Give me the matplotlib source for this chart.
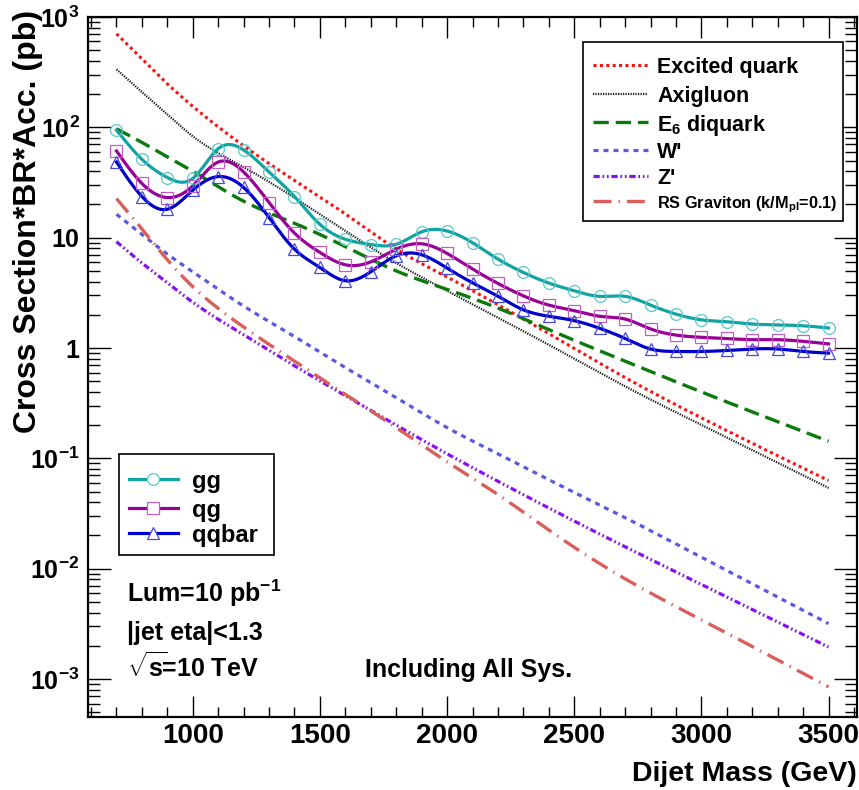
import numpy as np
import matplotlib
matplotlib.use('Agg')
import matplotlib.pyplot as plt
from matplotlib.lines import Line2D
from matplotlib.patches import Rectangle
from matplotlib.ticker import FixedLocator, MultipleLocator, LogLocator, NullFormatter

plt.rcParams['font.family'] = ['Liberation Sans', 'DejaVu Sans']
plt.rcParams['font.weight'] = 'bold'
plt.rcParams['mathtext.fontset'] = 'custom'
plt.rcParams['mathtext.rm'] = 'Liberation Sans:bold'
plt.rcParams['mathtext.it'] = 'Liberation Sans:bold'
plt.rcParams['mathtext.bf'] = 'Liberation Sans:bold'
plt.rcParams['mathtext.sf'] = 'Liberation Sans:bold'
plt.rcParams['lines.scale_dashes'] = False

# ---- data (pb) ----
mass = [700, 800, 900, 1000, 1100, 1200, 1300, 1400, 1500, 1600, 1700, 1800, 1900, 2000,
        2100, 2200, 2300, 2400, 2500, 2600, 2700, 2800, 2900, 3000, 3100, 3200, 3300, 3400, 3500]
gg = [94.6, 51.3, 35.1, 34.4, 64.1, 62.4, 39.4, 23.6, 13.2, 9.68, 8.67, 8.7, 11.3, 11.5,
      9.0, 6.4, 4.84, 3.88, 3.30, 2.94, 2.94, 2.45, 2.03, 1.80, 1.73, 1.65, 1.62, 1.59, 1.52]
qg = [61.1, 31.0, 23.1, 29.5, 48.5, 39.4, 20.8, 11.0, 7.35, 5.68, 6.04, 7.87, 8.8, 7.2,
      5.2, 3.85, 2.97, 2.45, 2.18, 1.94, 1.83, 1.49, 1.31, 1.25, 1.22, 1.19, 1.19, 1.15, 1.09]
qqbar = [48.5, 23.6, 18.1, 26.9, 35.8, 28.5, 15.2, 7.87, 5.37, 4.07, 4.91, 6.85, 7.0, 5.3,
         3.9, 2.95, 2.22, 1.94, 1.77, 1.51, 1.22, 0.98, 0.93, 0.93, 0.95, 0.98, 0.98, 0.93, 0.90]

theory_mass = [700, 800, 900, 1000, 1200, 1400, 1600, 1800, 2000, 2200, 2400, 2700, 3000, 3500]
excited_quark = [705, 417, 248, 155, 68, 33, 16.4, 7.9, 4.4, 2.47, 1.35, 0.54, 0.233, 0.063]
axigluon = [335, 209, 131, 83, 43.6, 23, 11.5, 5.9, 3.30, 1.88, 1.07, 0.45, 0.201, 0.054]
e6_diquark = [97, 73, 54, 40, 21.4, 13.5, 8.3, 5.0, 3.4, 2.3, 1.47, 0.76, 0.40, 0.143]
w_prime = [16.3, 10.7, 7.1, 4.9, 2.4, 1.27, 0.665, 0.355, 0.19, 0.11, 0.064, 0.029, 0.0127, 0.00318]
z_prime = [9.2, 5.9, 3.9, 2.6, 1.32, 0.69, 0.37, 0.20, 0.11, 0.062, 0.0355, 0.0158, 0.0072, 0.00195]
rs_graviton = [22.6, 12.0, 6.3, 3.6, 1.55, 0.76, 0.38, 0.19, 0.093, 0.047, 0.0224, 0.0081, 0.00344, 0.00085]

W, H = 859, 790


def fx(px):
    return px / W


def fy(py):
    return 1 - py / H


def smooth(x, y, n=600):
    """Natural cubic spline through the points, in log10(y)."""
    x = np.asarray(x, float)
    ly = np.log10(np.asarray(y, float))
    h = np.diff(x)
    nn = len(x)
    A = np.zeros((nn, nn))
    r = np.zeros(nn)
    A[0, 0] = A[-1, -1] = 1
    for i in range(1, nn - 1):
        A[i, i - 1] = h[i - 1]
        A[i, i] = 2 * (h[i - 1] + h[i])
        A[i, i + 1] = h[i]
        r[i] = 3 * ((ly[i + 1] - ly[i]) / h[i] - (ly[i] - ly[i - 1]) / h[i - 1])
    c = np.linalg.solve(A, r)
    b = (ly[1:] - ly[:-1]) / h - h * (2 * c[:-1] + c[1:]) / 3
    d = (c[1:] - c[:-1]) / (3 * h)
    xs = np.linspace(x[0], x[-1], n)
    idx = np.clip(np.searchsorted(x, xs) - 1, 0, nn - 2)
    dx = xs - x[idx]
    ys = ly[idx] + b[idx] * dx + c[idx] * dx ** 2 + d[idx] * dx ** 3
    return xs, 10 ** ys


fig = plt.figure(figsize=(W / 100, H / 100), dpi=100)
ax = fig.add_axes([fx(88), fy(717), (857 - 88) / W, (717 - 17) / H])

theory = [
    ('Excited quark', excited_quark, '#ff1010', (0, (2.2, 2.4)), 2.2, 15.5),
    ('Axigluon', axigluon, '#1a1a1a', (0, (0.9, 0.9)), 1.6, 15.5),
    ('E$_6$ diquark', e6_diquark, '#0a7a0a', (0, (11, 5)), 2.4, 15.5),
    ("W'", w_prime, '#5a5ae0', (0, (3.6, 3.6)), 2.3, 15.5),
    ("Z'", z_prime, '#8a10f0', (0, (4.5, 2, 1.2, 2, 1.2, 2)), 2.3, 15.5),
    ('RS Graviton (k/M$_{pl}$=0.1)', rs_graviton, '#d9605a', (0, (13, 5, 1, 5)), 2.4, 11.7),
]
for label, vals, col, ls, lw, fs in theory:
    xs, ys = smooth(theory_mass, vals)
    ax.plot(xs, ys, color=col, ls=ls, lw=lw, dash_capstyle='butt', zorder=2)

data = [
    ('gg', gg, '#12a3a3', '#5cc8c8', 'o'),
    ('qg', qg, '#980098', '#c060c0', 's'),
    ('qqbar', qqbar, '#0000cc', '#4848e0', '^'),
]
for label, vals, col, mcol, mk in data:
    xs, ys = smooth(mass, vals)
    ax.plot(xs, ys, color=col, lw=2.3, zorder=3)
    ax.plot(mass, vals, ls='none', marker=mk, ms=8.5, mfc='none', mec=mcol, mew=0.9, zorder=4)

ax.set_yscale('log')
ax.set_xlim(588, 3612)
ax.set_ylim(10 ** -3.344, 1000)

ax.xaxis.set_minor_locator(MultipleLocator(100))
ax.set_xticks([1000, 1500, 2000, 2500, 3000, 3500])
ax.set_xticklabels(['1000', '1500', '2000', '2500', '3000', '3500'])

yt = [1e-3, 1e-2, 1e-1, 1, 10, 100, 1000]
ax.yaxis.set_major_locator(FixedLocator(yt))
ax.set_yticklabels(['$10^{-3}$', '$10^{-2}$', '$10^{-1}$', '1', '10', '$10^{2}$', '$10^{3}$'])
ax.yaxis.set_minor_locator(LogLocator(base=10, subs=np.arange(2, 10), numticks=20))
ax.yaxis.set_minor_formatter(NullFormatter())

ax.tick_params(axis='both', which='both', direction='in', top=True, right=True, width=1.0)
ax.tick_params(axis='x', which='major', length=15, labelsize=20, pad=4)
ax.tick_params(axis='x', which='minor', length=7)
ax.tick_params(axis='y', which='major', length=16.5, labelsize=18, pad=6)
ax.tick_params(axis='y', which='minor', length=8.5)
for s in ax.spines.values():
    s.set_linewidth(1.6)

fig.text(fx(28), fy(10), 'Cross Section*BR*Acc. (pb)', rotation=90, ha='center', va='top', fontsize=23)
fig.text(fx(857), fy(781), 'Dijet Mass (GeV)', ha='right', va='baseline', fontsize=20.5)

# ---- theory legend (top right) ----
fig.add_artist(Rectangle((fx(583), fy(221)), (843 - 583) / W, (221 - 42) / H, transform=fig.transFigure,
                         fc='white', ec='black', lw=1.2, zorder=4))
rows = [65, 94, 122, 150, 176, 201]
for (label, vals, col, ls, lw, fs), yy in zip(theory, rows):
    fig.add_artist(Line2D([fx(593), fx(648)], [fy(yy), fy(yy)], transform=fig.transFigure,
                          color=col, ls=ls, lw=lw, dash_capstyle='butt', zorder=5))
    fig.text(fx(657), fy(yy), label, fontsize=fs, ha='left', va='center_baseline', zorder=6)

# ---- data legend (bottom left) ----
fig.add_artist(Rectangle((fx(119), fy(555)), (274 - 119) / W, (555 - 454) / H, transform=fig.transFigure,
                         fc='white', ec='black', lw=1.2, zorder=4))
rows = [479, 508, 533]
for (label, vals, col, mcol, mk), yy in zip(data, rows):
    fig.add_artist(Line2D([fx(129), fx(178)], [fy(yy), fy(yy)], transform=fig.transFigure,
                          color=col, lw=2.3, zorder=5))
    fig.add_artist(Line2D([fx(153)], [fy(yy)], transform=fig.transFigure, ls='none', marker=mk,
                          ms=8.5, mfc='white', mec=mcol, mew=0.9, zorder=6))
    fig.text(fx(192), fy(yy), label, fontsize=17, ha='left', va='center_baseline', zorder=6)

fig.text(fx(127), fy(602), 'Lum=10 pb$^{-1}$', fontsize=18, ha='left', va='baseline')
fig.text(fx(127), fy(640), '|jet eta|<1.3', fontsize=18, ha='left', va='baseline')
fig.text(fx(127), fy(677), r'$\sqrt{s}\!$=10 TeV', fontsize=18, ha='left', va='baseline')
fig.text(fx(365), fy(677), 'Including All Sys.', fontsize=18, ha='left', va='baseline')

fig.savefig('out.png', dpi=100)
